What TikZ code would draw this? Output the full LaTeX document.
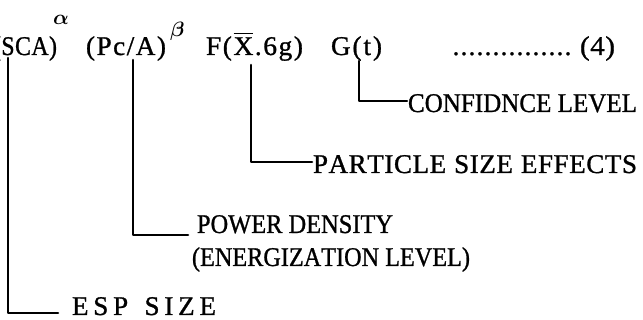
\documentclass[tikz,border=0pt]{standalone}
\usepackage{amsmath}
\usepackage{fontspec}
\setmainfont{Liberation Serif}
\newfontfamily\heavyserif{Liberation Serif}[FakeBold=1]
\usepackage{graphicx}
\makeatletter
\newcommand{\spacedtxt}[2]{\begingroup\def\sp@k{#1}\let\sp@first\relax
  \@tfor\sp@c:=#2\do{\sp@first\sp@c\def\sp@first{\kern\sp@k}}\endgroup}
\makeatother
\newcommand{\termtxt}[3]{\resizebox{#1}{\height}{\spacedtxt{#2}{#3}}}
\begin{document}
\begin{tikzpicture}[x=1pt,y=-1pt,
  lead/.style={line width=2.6pt,line cap=round,line join=round},
  txt/.style={inner sep=0pt,outer sep=0pt,anchor=base west,font=\heavyserif\fontsize{27pt}{31pt}\selectfont},
  sup/.style={inner sep=0pt,outer sep=0pt,anchor=base west,font=\fontsize{22pt}{24pt}\selectfont}]
\useasboundingbox (0,0) rectangle (643,320);
\clip (0,0) rectangle (643,320);
% top row: the equation terms
\node[txt,anchor=base east] (sca) at (57,55) {\termtxt{64pt}{0.5pt}{(SCA)}};
\node[sup] (alpha) at (53,25) {$\boldsymbol{\alpha}$};
\node[txt] (pca) at (86,55) {\termtxt{80pt}{1.5pt}{(Pc/A)}};
\node[sup] (beta) at (170,37) {$\boldsymbol{\beta}$};
\node[txt] (fx) at (206,55) {\resizebox{97pt}{\height}{F\kern1.5pt(\kern1.5pt$\overline{\hbox{X}}$\kern1.5pt.\kern1.5pt6\kern1.5pt g\kern1.5pt)}};
\node[txt] (gt) at (331,55) {\termtxt{51pt}{2pt}{G(t)}};
\node[txt] (dots) at (452,55) {\hbox to 120pt{\cleaders\hbox to 8pt{\hss.\hss}\hfill}};
\node[txt] (eqno) at (580,55) {\termtxt{35pt}{0.5pt}{(4)}};
% labels
\node[txt] (conf) at (408,112) {\termtxt{229pt}{0pt}{CONFIDNCE\ LEVEL}};
\node[txt] (part) at (313,173) {\termtxt{324pt}{0.6pt}{PARTICLE\ SIZE\ EFFECTS}};
\node[txt] (pow) at (197,233) {\termtxt{196pt}{0pt}{POWER\ DENSITY}};
\node[txt] (ener) at (192,266) {\termtxt{278pt}{0pt}{(ENERGIZATION\ LEVEL)}};
\node[txt] (esp) at (72,315) {\termtxt{144pt}{4.8pt}{ESP\ SIZE}};
% connector feet
\coordinate (sca-t) at (8,58);
\coordinate (pca-t) at (133,60);
\coordinate (fx-t) at (251,65);
\coordinate (gt-t) at (359,61);
\draw[lead] (sca-t) |- ([xshift=-14pt,yshift=2pt]esp.base west);
\draw[lead] (pca-t) |- ([xshift=-9pt,yshift=-2pt]pow.base west);
\draw[lead] (fx-t) |- ([xshift=-1pt,yshift=11pt]part.base west);
\draw[lead] (gt-t) |- ([xshift=-1pt,yshift=11pt]conf.base west);
\end{tikzpicture}
\end{document}
